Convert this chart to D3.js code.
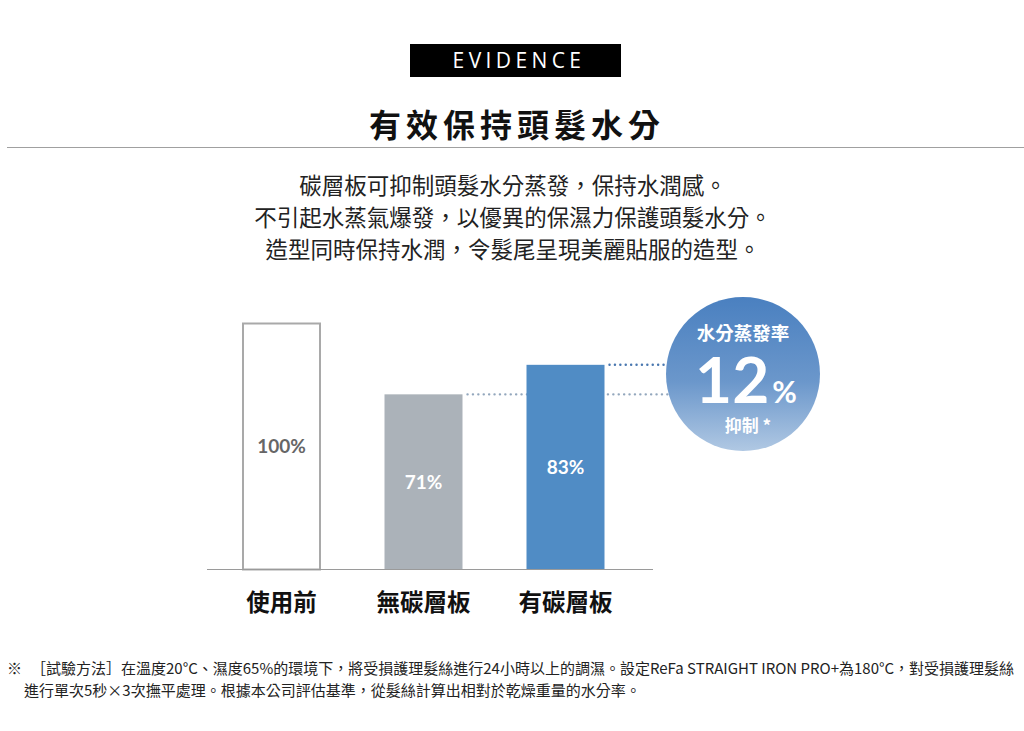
<!DOCTYPE html>
<html>
<head>
<meta charset="utf-8">
<script src="https://cdn.jsdelivr.net/npm/d3@7"></script>
<style>
  body { margin: 0; background: #fff; overflow: hidden; }
</style>
</head>
<body>
<script>
const categories = ["使用前", "無碳層板", "有碳層板"];
const values = [100, 71, 83];
const valueLabels = ["100%", "71%", "83%"];
const introLines = [
    "碳層板可抑制頭髮水分蒸發，保持水潤感。",
    "不引起水蒸氣爆發，以優異的保濕力保護頭髮水分。",
    "造型同時保持水潤，令髮尾呈現美麗貼服的造型。"
];
const badgeValue = "12";
const noteLines = [
    "［試驗方法］在溫度20°C、濕度65%的環境下，將受損護理髮絲進行24小時以上的調濕。設定ReFa STRAIGHT IRON PRO+為180°C，對受損護理髮絲",
    "進行單次5秒×3次撫平處理。根據本公司評估基準，從髮絲計算出相對於乾燥重量的水分率。"
];

const width = 1024, height = 731;
const font = '"Noto Sans CJK TC", "Noto Sans", sans-serif';

const svg = d3.select("body").append("svg")
    .attr("width", width)
    .attr("height", height)
    .style("font-family", font);

// header
svg.append("rect")
    .attr("x", 410).attr("y", 44).attr("width", 211).attr("height", 33)
    .attr("fill", "#000");
svg.append("text")
    .attr("x", 519).attr("y", 68)
    .attr("text-anchor", "middle")
    .attr("fill", "#fff")
    .style("font-family", '"Open Sans", "Noto Sans", sans-serif')
    .style("font-size", "21px")
    .style("letter-spacing", "4.4px")
    .text("EVIDENCE");

svg.append("text")
    .attr("x", 517).attr("y", 137)
    .attr("text-anchor", "middle")
    .attr("fill", "#111")
    .style("font-size", "32px")
    .style("font-weight", "700")
    .style("letter-spacing", "5px")
    .text("有效保持頭髮水分");

svg.append("line")
    .attr("x1", 7).attr("x2", 1024).attr("y1", 147.5).attr("y2", 147.5)
    .attr("stroke", "#a0a0a0").attr("stroke-width", 1);

svg.selectAll("text.intro").data(introLines).enter().append("text")
    .attr("class", "intro")
    .attr("x", 513)
    .attr("y", (d, i) => 194 + i * 32)
    .attr("text-anchor", "middle")
    .attr("fill", "#222")
    .style("font-size", "22.5px")
    .text(d => d);

// scales
const xScale = d3.scalePoint()
    .domain(categories)
    .range([281.5, 565.5]);
const yScale = d3.scaleLinear()
    .domain([0, 100])
    .range([569, 323]);
const barWidth = 78;

const fills = ["#ffffff", "#abb2b9", "#508cc5"];
const strokes = ["#a9a9a9", "none", "none"];
const labelColors = ["#666666", "#ffffff", "#ffffff"];

const data = categories.map((c, i) => ({ label: c, value: values[i], text: valueLabels[i], i: i }));

// dotted guide lines from the treated bars to the badge
const badge = { cx: 743, cy: 374, r: 77 };
svg.selectAll("line.guide").data(data.slice(1)).enter().append("line")
    .attr("class", "guide")
    .attr("x1", d => xScale(d.label) + barWidth / 2 + 5)
    .attr("x2", badge.cx - badge.r + 2)
    .attr("y1", d => yScale(d.value))
    .attr("y2", d => yScale(d.value))
    .attr("stroke", (d, i) => i === 1 ? "#4a78b0" : "#93a7bd")
    .attr("stroke-width", 2.4)
    .attr("stroke-linecap", "round")
    .attr("stroke-dasharray", "0.1 5.3");

// bars
const bars = svg.selectAll("g.bar").data(data).enter().append("g")
    .attr("class", "bar");
bars.append("rect")
    .attr("x", d => xScale(d.label) - barWidth / 2 + (d.i === 0 ? 0.5 : 0))
    .attr("y", d => yScale(d.value) + (d.i === 0 ? 0.5 : 0))
    .attr("width", d => barWidth - (d.i === 0 ? 1 : 0))
    .attr("height", d => yScale(0) - yScale(d.value))
    .attr("fill", d => fills[d.i])
    .attr("stroke", d => strokes[d.i])
    .attr("stroke-width", 2);
bars.append("text")
    .attr("x", d => xScale(d.label))
    .attr("y", d => (yScale(d.value) + yScale(0)) / 2 + 7)
    .attr("text-anchor", "middle")
    .attr("fill", d => labelColors[d.i])
    .style("font-family", '"Lato", "Noto Sans", sans-serif')
    .style("font-size", "19px")
    .style("font-weight", "700")
    .text(d => d.text);

// baseline
svg.append("line")
    .attr("x1", 207).attr("x2", 653)
    .attr("y1", yScale(0) + 0.5).attr("y2", yScale(0) + 0.5)
    .attr("stroke", "#9a9a9a").attr("stroke-width", 1.2);

// category labels
svg.selectAll("text.cat").data(categories).enter().append("text")
    .attr("class", "cat")
    .attr("x", d => xScale(d))
    .attr("y", 611)
    .attr("text-anchor", "middle")
    .attr("fill", "#111")
    .style("font-size", "23.5px")
    .style("font-weight", "700")
    .text(d => d);

// badge
const defs = svg.append("defs");
const grad = defs.append("linearGradient")
    .attr("id", "badgeGrad")
    .attr("x1", 0).attr("y1", 0).attr("x2", 0).attr("y2", 1);
grad.append("stop").attr("offset", "0%").attr("stop-color", "#4a80c0");
grad.append("stop").attr("offset", "55%").attr("stop-color", "#6b97cb");
grad.append("stop").attr("offset", "100%").attr("stop-color", "#b0c8e3");

svg.append("circle")
    .attr("cx", badge.cx).attr("cy", badge.cy).attr("r", badge.r)
    .attr("fill", "url(#badgeGrad)");
svg.append("text")
    .attr("x", badge.cx).attr("y", 340)
    .attr("text-anchor", "middle")
    .attr("fill", "#fff")
    .style("font-size", "18.5px")
    .style("font-weight", "700")
    .text("水分蒸發率");
const big = svg.append("text")
    .attr("x", badge.cx + 3).attr("y", 403)
    .attr("text-anchor", "middle")
    .attr("fill", "#fff")
    .style("font-family", '"Lato", "Noto Sans", sans-serif')
    .style("font-weight", "700");
big.append("tspan").style("font-size", "64px").text(badgeValue);
big.append("tspan").style("font-size", "30px").attr("dx", 3).text("%");
svg.append("text")
    .attr("x", badge.cx + 5).attr("y", 432)
    .attr("text-anchor", "middle")
    .attr("fill", "#fff")
    .style("font-size", "17px")
    .style("font-weight", "700")
    .text("抑制 *");

// footnote
svg.append("text")
    .attr("x", 7).attr("y", 674)
    .attr("fill", "#222")
    .style("font-size", "15px")
    .text("※");
svg.selectAll("text.note").data(noteLines).enter().append("text")
    .attr("class", "note")
    .attr("x", (d, i) => i === 0 ? 31 : 24)
    .attr("y", (d, i) => 674 + i * 22)
    .attr("fill", "#222")
    .style("font-size", "15px")
    .text(d => d);
</script>
</body>
</html>
